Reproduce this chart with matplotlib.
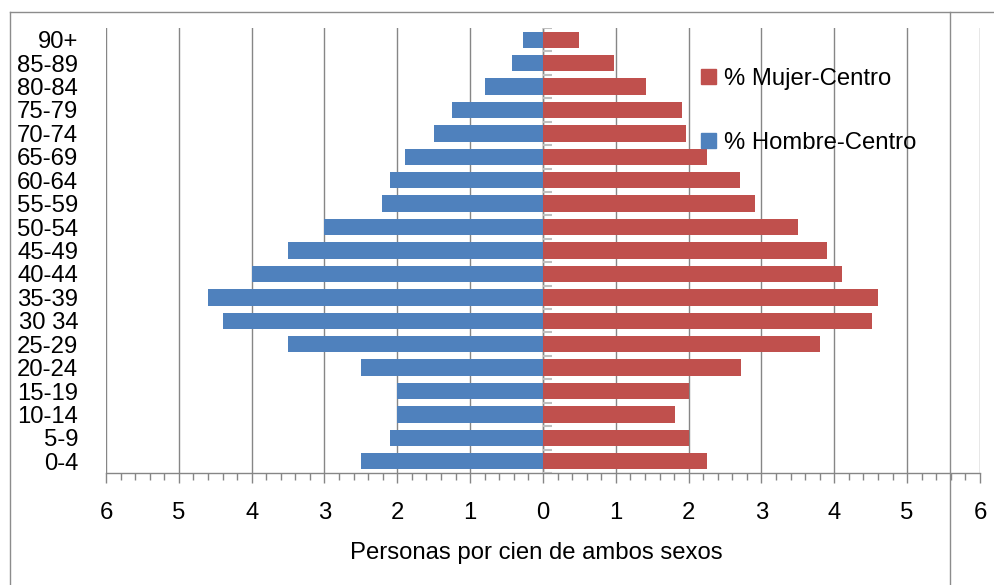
import numpy as np
import matplotlib.pyplot as plt
from matplotlib.lines import Line2D
from matplotlib.patches import Patch

plt.rcParams['font.family'] = ['Liberation Sans', 'DejaVu Sans']

grupos = ['0-4', '5-9', '10-14', '15-19', '20-24', '25-29', '30 34', '35-39',
          '40-44', '45-49', '50-54', '55-59', '60-64', '65-69', '70-74',
          '75-79', '80-84', '85-89', '90+']
hombres = np.array([2.50, 2.10, 2.00, 2.00, 2.50, 3.50, 4.40, 4.60, 4.00, 3.50,
                    3.00, 2.21, 2.10, 1.90, 1.49, 1.25, 0.79, 0.42, 0.27])
mujeres = np.array([2.25, 2.01, 1.81, 2.01, 2.72, 3.80, 4.52, 4.60, 4.11, 3.90,
                    3.50, 2.91, 2.71, 2.25, 1.96, 1.91, 1.41, 0.97, 0.50])
xticks = np.arange(-6, 7, 1)

azul = '#4F81BD'
rojo = '#C0504D'
gris = '#868686'
fs = 17.2

fig = plt.figure(figsize=(9.95, 5.85), dpi=100)
ax = fig.add_axes([106/995, 1-473/585, (980-106)/995, (473-28)/585])

y = np.arange(len(grupos))
ax.barh(y, -hombres, height=0.70, color=azul, label='% Hombre-Centro')
ax.barh(y, mujeres, height=0.70, color=rojo, label='% Mujer-Centro')

ax.set_xlim(-6, 6)
ax.set_ylim(-0.5, len(grupos) - 0.5)

ax.set_xticks(xticks)
ax.set_xticklabels([str(abs(v)) for v in xticks])
ax.set_xticks(np.arange(-6, 6.01, 0.2), minor=True)
ax.tick_params(axis='x', which='major', length=7, width=1, color=gris,
               labelsize=fs, pad=14)
ax.tick_params(axis='x', which='minor', length=5, width=1, color=gris)

ax.set_yticks(y)
ax.set_yticklabels(grupos)
ax.tick_params(axis='y', length=0, labelsize=fs, pad=20)

ax.grid(axis='x', which='major', color=gris, linewidth=1)
ax.set_axisbelow(True)
for s in ['top', 'right', 'left']:
    ax.spines[s].set_visible(False)
ax.spines['bottom'].set_color(gris)
ax.spines['bottom'].set_linewidth(1)

# eje vertical en cero con marcas entre categorias
ax.axvline(0, color=gris, linewidth=1, zorder=0.5)
ax.hlines(np.arange(-0.5, len(grupos), 1), 0, 0.12, color='#BFBFBF',
          linewidth=1.5, zorder=3)

handles = [Patch(color=rojo), Patch(color=azul)]
fig.legend(handles, ['% Mujer-Centro', '% Hombre-Centro'],
           loc='upper left', bbox_to_anchor=(701/995, 1-68/585),
           frameon=False, fontsize=fs, handlelength=0.62, handleheight=0.62,
           handletextpad=0.35, labelspacing=1.75, borderpad=0, borderaxespad=0)

fig.text(536/995, 1-553/585, 'Personas por cien de ambos sexos',
         ha='center', va='center', fontsize=fs)

# marco del grafico
fig.add_artist(Line2D([10/995, 1], [1-12/585, 1-12/585], color='#8C8C8C', lw=1))
fig.add_artist(Line2D([10/995, 10/995], [0, 1-12/585], color='#8C8C8C', lw=1))
fig.add_artist(Line2D([950/995, 950/995], [0, 1-12/585], color='#8C8C8C', lw=1))

fig.savefig('out.png', dpi=100)
